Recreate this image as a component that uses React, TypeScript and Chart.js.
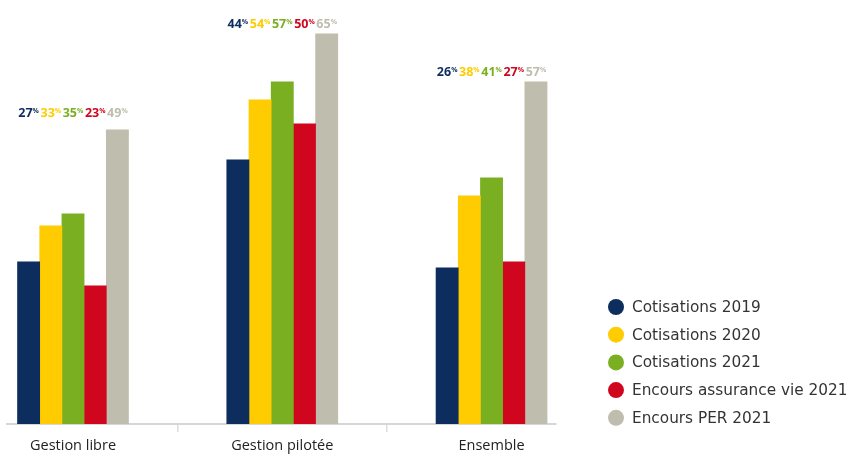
import React, { useEffect, useRef } from "react";
import { Chart, registerables } from "chart.js";

Chart.register(...registerables);

// Categories and series values (percent)
const categories = ["Gestion libre", "Gestion pilotée", "Ensemble"];
const seriesNames = [
  "Cotisations 2019",
  "Cotisations 2020",
  "Cotisations 2021",
  "Encours assurance vie 2021",
  "Encours PER 2021",
];
const cotisations2019 = [27, 44, 26];
const cotisations2020 = [33, 54, 38];
const cotisations2021 = [35, 57, 41];
const encoursAssuranceVie2021 = [23, 50, 27];
const encoursPer2021 = [49, 65, 57];

const seriesValues = [
  cotisations2019,
  cotisations2020,
  cotisations2021,
  encoursAssuranceVie2021,
  encoursPer2021,
];
const seriesColors = ["#0c2d5e", "#fecc00", "#7aaf21", "#d0061f", "#bfbdad"];

// gap between the tallest bar of a group and its value labels
const labelGap = [13, 6, 6];

const valueLabels = {
  id: "valueLabels",
  afterDatasetsDraw(chart: any) {
    const ctx = chart.ctx;
    const metas = chart.data.datasets.map((_: any, i: number) => chart.getDatasetMeta(i));
    categories.forEach((_, ci) => {
      let top = Infinity;
      metas.forEach((m: any) => {
        const el = m.data[ci];
        if (el && el.y < top) top = el.y;
      });
      const baseline = top - labelGap[ci];
      metas.forEach((m: any, di: number) => {
        const el = m.data[ci];
        if (!el) return;
        const value = String(chart.data.datasets[di].data[ci].y);
        ctx.save();
        ctx.font = "700 12.5px 'Open Sans'";
        const wNum = ctx.measureText(value).width;
        ctx.font = "700 7px 'Open Sans'";
        const wPct = ctx.measureText("%").width;
        const start = el.x - (wNum + wPct) / 2;
        ctx.fillStyle = chart.data.datasets[di].backgroundColor;
        ctx.textBaseline = "alphabetic";
        ctx.textAlign = "left";
        ctx.font = "700 12.5px 'Open Sans'";
        ctx.fillText(value, start, baseline);
        ctx.font = "700 7px 'Open Sans'";
        ctx.fillText("%", start + wNum, baseline - 4);
        ctx.restore();
      });
    });
  },
};

const sideLegend = {
  id: "sideLegend",
  afterDraw(chart: any) {
    const ctx = chart.ctx;
    ctx.save();
    chart.data.datasets.forEach((ds: any, i: number) => {
      const y = 307 + i * 27.7;
      ctx.beginPath();
      ctx.arc(616, y, 8, 0, Math.PI * 2);
      ctx.fillStyle = ds.backgroundColor;
      ctx.fill();
      ctx.fillStyle = "#333333";
      ctx.font = "15.3px 'DejaVu Sans'";
      ctx.textBaseline = "middle";
      ctx.textAlign = "left";
      ctx.fillText(ds.label, 632, y + 1);
    });
    ctx.restore();
  },
};

export default function App() {
  const canvasRef = useRef<HTMLCanvasElement | null>(null);

  useEffect(() => {
    if (!canvasRef.current) return;
    const chart = new Chart(canvasRef.current, {
      type: "bar",
      data: {
        datasets: seriesNames.map((name, i) => ({
          label: name,
          data: seriesValues[i].map((v, ci) => ({ x: ci, y: v })),
          backgroundColor: seriesColors[i],
          borderWidth: 0,
          barThickness: 22.2,
        })),
      },
      options: {
        animation: false,
        responsive: true,
        maintainAspectRatio: false,
        layout: { padding: { left: 7, right: 293, top: 2, bottom: 0 } },
        plugins: {
          legend: { display: false },
          tooltip: { enabled: false },
        },
        scales: {
          x: {
            type: "linear",
            bounds: "data",
            offset: false,
            min: -0.3154,
            max: 2.308,
            afterBuildTicks: (scale: any) => {
              scale.ticks = categories.map((_, i) => ({ value: i }));
            },
            afterFit: (scale: any) => {
              scale.height = 30;
            },
            grid: {
              offset: true,
              drawOnChartArea: false,
              drawTicks: true,
              tickLength: 8,
              color: "#dcdcdc",
              lineWidth: 1.5,
            },
            border: { display: true, color: "#d6d6d6", width: 2 },
            ticks: {
              autoSkip: false,
              maxRotation: 0,
              padding: 5,
              color: "#222222",
              font: { family: "'Open Sans'", size: 14.5 },
              callback: (v: any) => categories[v] ?? "",
            },
          },
          y: {
            display: false,
            min: 0,
            max: 70.3,
          },
        },
      },
      plugins: [valueLabels, sideLegend],
    });
    return () => chart.destroy();
  }, []);

  return (
    <div style={{ position: "fixed", left: 0, top: 0, width: 849, height: 454, background: "#ffffff" }}>
      <canvas ref={canvasRef} />
    </div>
  );
}
